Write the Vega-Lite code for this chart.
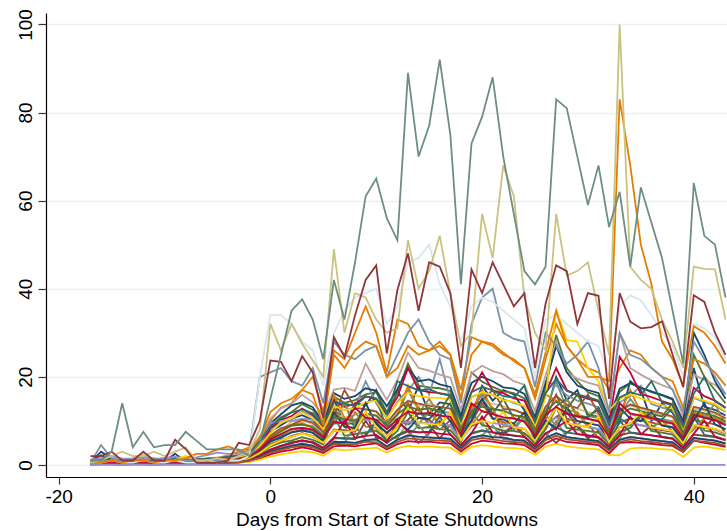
{
"$schema": "https://vega.github.io/schema/vega-lite/v6.json",
"width": 681, "height": 464,
"autosize": {"type": "none"},
"padding": {"left": 46, "top": 13, "right": 0, "bottom": 54},
"background": "white",
"config": {"view": {"stroke": null}, "font": "Liberation Sans"},
"data": {"values": [
{"day":-17,"a":0.5,"b":0.3,"c":0.2,"P":0.5,"f":0.5,"g":0.1,"i":1,"j":0.3,"k":0.5,"l":0.4,"m":0.2,"n":1,"o":0.1,"p":0.4,"q":0.8,"r":0.2,"s":0.1,"t":0.4,"u":0.3,"w":0.6,"x":1.2,"y":0.5,"z":0.2,"A":0.4,"B":0.1,"C":0.7,"D":0.3,"F":0.2,"G":0.5,"H":0.8,"I":0.2,"J":0.4,"N":0.1,"Q":0.1,"E":0.5,"L":0.5,"O":0.5,"K":0.5,"M":2,"T":1,"Z":0},
{"day":-16,"a":3,"b":0.4,"c":0.3,"P":0.6,"f":0.6,"g":0.2,"i":1.2,"j":0.4,"k":0.8,"l":0.5,"m":0.3,"n":1.5,"o":0.1,"p":0.6,"q":2.2,"r":0.3,"s":0.2,"t":0.5,"u":0.4,"w":0.8,"x":1.5,"y":0.6,"z":0.3,"A":0.5,"B":0.2,"C":0.9,"D":0.4,"F":0.3,"G":0.6,"H":1.1,"I":0.3,"J":0.5,"N":0.2,"Q":0.2,"E":4.5,"L":0.5,"O":0.5,"K":1,"M":2,"T":1,"Z":0},
{"day":-15,"a":1.5,"b":0.5,"c":0.3,"P":0.7,"f":0.7,"g":0.2,"i":1.5,"j":0.5,"k":0.7,"l":0.6,"m":0.3,"n":1.3,"o":0.2,"p":0.5,"q":1.2,"r":0.3,"s":0.2,"t":0.6,"u":0.4,"w":1,"x":2,"y":0.7,"z":0.3,"A":0.6,"B":0.2,"C":1,"D":0.5,"F":0.3,"G":0.7,"H":1.2,"I":0.3,"J":0.6,"N":0.2,"Q":0.2,"E":1.5,"L":1,"O":1,"K":2,"M":3,"T":3,"Z":0},
{"day":-14,"a":0.8,"b":0.4,"c":0.2,"P":0.5,"f":0.5,"g":0.1,"i":1,"j":0.4,"k":0.6,"l":0.4,"m":0.2,"n":1,"o":0.1,"p":0.4,"q":0.9,"r":0.2,"s":0.1,"t":0.5,"u":0.3,"w":0.7,"x":1.4,"y":0.5,"z":0.2,"A":0.4,"B":0.1,"C":0.8,"D":0.3,"F":0.2,"G":0.5,"H":0.9,"I":0.2,"J":0.4,"N":0.1,"Q":0.1,"E":1,"L":0.5,"O":0.5,"K":3,"M":1,"T":14,"Z":0},
{"day":-13,"a":0.9,"b":0.5,"c":0.3,"P":0.6,"f":0.6,"g":0.2,"i":1.1,"j":0.4,"k":0.7,"l":0.5,"m":0.3,"n":1.2,"o":0.1,"p":0.5,"q":1,"r":0.3,"s":0.2,"t":0.6,"u":0.4,"w":0.8,"x":1.5,"y":0.6,"z":0.3,"A":0.5,"B":0.2,"C":0.9,"D":0.4,"F":0.3,"G":0.6,"H":1,"I":0.3,"J":0.5,"N":0.2,"Q":0.2,"E":1,"L":0.5,"O":1,"K":2,"M":1,"T":4,"Z":0},
{"day":-12,"a":1,"b":0.6,"c":0.4,"P":0.8,"f":0.7,"g":0.2,"i":2.5,"j":0.5,"k":0.8,"l":0.6,"m":0.3,"n":1.4,"o":0.2,"p":0.6,"q":1.2,"r":0.3,"s":0.2,"t":0.7,"u":0.5,"w":0.9,"x":1.8,"y":0.7,"z":0.4,"A":0.6,"B":0.2,"C":1.1,"D":0.5,"F":0.3,"G":0.7,"H":1.2,"I":0.3,"J":0.6,"N":0.2,"Q":0.2,"E":1,"L":1,"O":1,"K":2,"M":3,"T":7.5,"Z":0},
{"day":-11,"a":0.7,"b":0.4,"c":0.3,"P":0.5,"f":0.5,"g":0.1,"i":1,"j":0.4,"k":0.6,"l":0.4,"m":0.2,"n":1.1,"o":0.1,"p":0.4,"q":0.9,"r":0.2,"s":0.1,"t":0.5,"u":0.3,"w":0.7,"x":1.3,"y":0.5,"z":0.2,"A":0.4,"B":0.1,"C":0.8,"D":0.3,"F":0.2,"G":0.5,"H":0.9,"I":0.2,"J":0.4,"N":0.1,"Q":0.1,"E":1.5,"L":0.5,"O":0.5,"K":3,"M":1,"T":4,"Z":0},
{"day":-10,"a":0.9,"b":0.5,"c":0.3,"P":0.6,"f":0.6,"g":0.2,"i":1.2,"j":0.5,"k":0.7,"l":0.5,"m":0.3,"n":1.3,"o":0.1,"p":0.5,"q":1.1,"r":0.3,"s":0.2,"t":0.6,"u":0.4,"w":0.8,"x":1.6,"y":0.6,"z":0.3,"A":0.5,"B":0.2,"C":1,"D":0.4,"F":0.3,"G":0.6,"H":1,"I":0.3,"J":0.5,"N":0.2,"Q":0.2,"E":1,"L":0.5,"O":1,"K":2,"M":1,"T":4.5,"Z":0},
{"day":-9,"a":2.5,"b":0.6,"c":0.4,"P":0.9,"f":0.8,"g":0.2,"i":1.4,"j":0.6,"k":1.8,"l":0.6,"m":0.4,"n":1.5,"o":0.2,"p":0.6,"q":1.3,"r":0.4,"s":0.2,"t":0.8,"u":0.5,"w":1,"x":1.8,"y":0.7,"z":0.4,"A":0.6,"B":0.3,"C":1.2,"D":0.5,"F":0.4,"G":0.7,"H":1.3,"I":0.4,"J":0.6,"N":0.3,"Q":0.3,"E":1,"L":1,"O":1,"K":3,"M":5.7,"T":4.5,"Z":0},
{"day":-8,"a":0.8,"b":0.5,"c":0.3,"P":0.7,"f":0.6,"g":0.2,"i":1.1,"j":0.4,"k":0.7,"l":0.5,"m":0.3,"n":1.2,"o":0.1,"p":0.5,"q":1,"r":0.3,"s":0.2,"t":0.6,"u":0.4,"w":0.8,"x":1.5,"y":0.6,"z":0.3,"A":0.5,"B":0.2,"C":2,"D":0.4,"F":0.3,"G":0.6,"H":1,"I":0.3,"J":0.5,"N":0.2,"Q":0.2,"E":1,"L":0.5,"O":1.5,"K":4,"M":3.6,"T":7.5,"Z":0},
{"day":-7,"a":1,"b":0.6,"c":0.4,"P":1,"f":0.7,"g":0.2,"i":1.3,"j":0.5,"k":0.8,"l":0.6,"m":0.3,"n":1.4,"o":0.2,"p":0.6,"q":1.2,"r":0.3,"s":0.2,"t":0.7,"u":0.5,"w":0.9,"x":1.7,"y":0.7,"z":0.4,"A":0.6,"B":0.2,"C":1.1,"D":0.5,"F":0.3,"G":0.7,"H":1.2,"I":0.3,"J":0.6,"N":0.2,"Q":0.2,"E":1,"L":0.5,"O":2.5,"K":1,"M":0.5,"T":5.5,"Z":0},
{"day":-6,"a":1.2,"b":0.7,"c":0.5,"P":1.2,"f":0.8,"g":0.3,"i":1.4,"j":0.6,"k":0.9,"l":0.7,"m":0.4,"n":1.5,"o":0.2,"p":0.7,"q":1.4,"r":0.4,"s":0.3,"t":0.8,"u":0.6,"w":1.1,"x":2.2,"y":0.8,"z":0.5,"A":0.7,"B":0.3,"C":1.3,"D":0.6,"F":0.4,"G":0.8,"H":1.4,"I":0.4,"J":0.7,"N":0.3,"Q":0.3,"E":1,"L":1,"O":2.5,"K":1,"M":0.5,"T":3.5,"Z":0},
{"day":-5,"a":1.3,"b":0.8,"c":0.6,"P":1.5,"f":0.9,"g":0.3,"i":1.6,"j":0.7,"k":1,"l":0.8,"m":0.5,"n":1.7,"o":0.3,"p":0.8,"q":1.5,"r":0.5,"s":0.4,"t":0.9,"u":0.7,"w":1.2,"x":2.8,"y":0.9,"z":0.6,"A":0.8,"B":0.4,"C":1.4,"D":0.7,"F":0.5,"G":0.9,"H":1.5,"I":0.5,"J":0.8,"N":0.4,"Q":0.3,"E":1,"L":0.5,"O":3.5,"K":1.5,"M":0.5,"T":3.5,"Z":0},
{"day":-4,"a":1.5,"b":1,"c":0.8,"P":2.2,"f":1.1,"g":0.4,"i":1.8,"j":0.9,"k":1.2,"l":1,"m":0.6,"n":2,"o":0.4,"p":1,"q":1.8,"r":0.6,"s":0.5,"t":1.1,"u":0.8,"w":1.5,"x":2.5,"y":1.1,"z":0.7,"A":1,"B":0.5,"C":1.7,"D":0.8,"F":0.6,"G":1.1,"H":1.8,"I":0.6,"J":1,"N":0.5,"Q":0.4,"E":1,"L":1,"O":4.2,"K":1,"M":1,"T":3.5,"Z":0},
{"day":-3,"a":1.8,"b":1.2,"c":1.5,"P":3,"f":1.3,"g":0.5,"i":2,"j":1.2,"k":1.6,"l":1.3,"m":0.9,"n":2.4,"o":0.5,"p":1,"q":2,"r":0.8,"s":0.8,"t":1.4,"u":0.8,"w":1.9,"x":2.6,"y":1.5,"z":0.9,"A":1.2,"B":0.7,"C":1.8,"D":1.1,"F":0.8,"G":1.4,"H":2.1,"I":0.9,"J":1.3,"N":0.6,"Q":0.6,"E":2,"L":1,"O":3.3,"K":2,"M":5,"T":3.5,"Z":0},
{"day":-2,"a":2.6,"b":1.6,"c":2.8,"P":4,"f":2.2,"g":0.8,"i":2.4,"j":1.8,"k":2.6,"l":1.9,"m":1.5,"n":3.3,"o":0.7,"p":1.4,"q":2.9,"r":1.2,"s":1.4,"t":2.2,"u":1.1,"w":2.7,"x":3.2,"y":2.3,"z":1.2,"A":1.9,"B":1.1,"C":2.4,"D":1.7,"F":1.2,"G":2,"H":2.7,"I":1.5,"J":1.8,"N":1,"Q":0.9,"E":3,"L":2,"O":3.5,"K":3,"M":4.5,"T":2,"Z":0},
{"day":-1,"a":4.5,"b":2.5,"c":5.5,"P":6,"f":3.8,"g":1.4,"i":3.6,"j":3.2,"k":4.9,"l":3.1,"m":2.9,"n":6.5,"o":1.2,"p":2.2,"q":5,"r":2.2,"s":2.5,"t":3.8,"u":1.9,"w":4.4,"x":4.5,"y":4,"z":2.1,"A":3.4,"B":1.8,"C":4.3,"D":3.2,"F":2.1,"G":3.4,"H":5.2,"I":2.7,"J":3.5,"N":1.9,"Q":1.6,"E":20,"L":20,"O":6,"K":8,"M":10,"T":5,"Z":0},
{"day":0,"a":7.5,"b":4.2,"c":8.8,"P":10,"f":6.5,"g":2.4,"i":6.2,"j":5.3,"k":8.1,"l":5.2,"m":4.8,"n":10.5,"o":1.9,"p":3.8,"q":9.4,"r":3.5,"s":4.2,"t":6.4,"u":3.1,"w":8.3,"x":9.5,"y":6.7,"z":3.3,"A":5.6,"B":3,"C":7.2,"D":5.4,"F":3.4,"G":6.1,"H":8.7,"I":4.4,"J":5.8,"N":3,"Q":2.8,"E":21,"L":34,"O":12,"K":32,"M":23.7,"T":15,"Z":0},
{"day":1,"a":9,"b":5.3,"c":10.8,"P":13,"f":7.9,"g":3,"i":7.7,"j":6.4,"k":9.6,"l":6.6,"m":5.7,"n":12.8,"o":2.4,"p":4.9,"q":11.5,"r":4.3,"s":5.1,"t":7.8,"u":3.8,"w":10.2,"x":10,"y":8.3,"z":4.2,"A":6.9,"B":3.7,"C":9.6,"D":6.1,"F":4.3,"G":7.6,"H":10.5,"I":5.5,"J":7,"N":3.7,"Q":3.4,"E":22,"L":34,"O":14,"K":26,"M":23.4,"T":25,"Z":0},
{"day":2,"a":10.5,"b":6.6,"c":12,"P":14,"f":8.9,"g":3.4,"i":9.8,"j":7.4,"k":10.3,"l":8.1,"m":6.3,"n":13.9,"o":2.8,"p":5.9,"q":13.5,"r":5.1,"s":5.5,"t":9.1,"u":4.4,"w":11.1,"x":10,"y":9.1,"z":5.1,"A":7.9,"B":4.4,"C":10.6,"D":7.4,"F":4.9,"G":8.9,"H":11.9,"I":6.4,"J":8.2,"N":4.3,"Q":4,"E":19,"L":32,"O":15,"K":32,"M":19,"T":35,"Z":0},
{"day":3,"a":11.3,"b":7.2,"c":13.8,"P":17,"f":9.1,"g":4,"i":10.1,"j":8,"k":12.1,"l":8.4,"m":7.2,"n":15.9,"o":3.1,"p":6.1,"q":14.2,"r":5.4,"s":6.3,"t":9.5,"u":4.6,"w":12.8,"x":10.5,"y":10.2,"z":5.5,"A":8.4,"B":4.8,"C":11.9,"D":7.8,"F":5.6,"G":9.2,"H":12.6,"I":7.1,"J":8.4,"N":4.8,"Q":4.3,"E":18,"L":28,"O":17,"K":27.5,"M":24.7,"T":37.6,"Z":0},
{"day":4,"a":10.2,"b":6.4,"c":12.5,"P":20,"f":8.8,"g":3.5,"i":9.3,"j":7.3,"k":11.1,"l":7.8,"m":6.6,"n":14.2,"o":2.9,"p":5.6,"q":13.1,"r":5.2,"s":5.7,"t":8.5,"u":4.4,"w":11.4,"x":10.2,"y":9.6,"z":5.1,"A":8,"B":4.4,"C":10.6,"D":7.3,"F":5,"G":8.5,"H":11.7,"I":6.5,"J":8,"N":4.3,"Q":4,"E":22,"L":26,"O":16,"K":23.7,"M":21,"T":33,"Z":0},
{"day":5,"a":7.9,"b":5.1,"c":9.1,"P":12,"f":6.8,"g":2.7,"i":7.4,"j":5.3,"k":8.4,"l":6.2,"m":4.8,"n":11.2,"o":2.1,"p":4.5,"q":9.6,"r":3.9,"s":4.6,"t":6.4,"u":3.3,"w":8.7,"x":9.5,"y":7.4,"z":3.7,"A":6.1,"B":3.4,"C":8.1,"D":5.6,"F":3.8,"G":6.6,"H":8.9,"I":5,"J":6.2,"N":3.3,"Q":3,"E":14,"L":18,"O":9,"K":20,"M":10.5,"T":24,"Z":0},
{"day":6,"a":15,"b":7.7,"c":15.5,"P":26,"f":10.4,"g":4.2,"i":11.6,"j":13,"k":13.5,"l":9.4,"m":8.1,"n":17.1,"o":3.6,"p":7.2,"q":16.3,"r":6,"s":11,"t":16,"u":5.4,"w":14.5,"x":10.5,"y":11.2,"z":6.3,"A":9.5,"B":5.2,"C":13.4,"D":12,"F":6.1,"G":10.8,"H":14.2,"I":7.8,"J":9.8,"N":5.2,"Q":4.8,"E":28,"L":30,"O":25,"K":49,"M":29,"T":42,"Z":0},
{"day":7,"a":9,"b":7.9,"c":14.1,"P":24,"f":14,"g":4.4,"i":10.8,"j":8.8,"k":12.4,"l":9.6,"m":7.5,"n":17.5,"o":3.3,"p":6.7,"q":15,"r":6.1,"s":6.6,"t":10.6,"u":5,"w":13.2,"x":10,"y":17,"z":5.9,"A":14,"B":5.2,"C":12.4,"D":8.6,"F":10,"G":10.4,"H":13.9,"I":7.5,"J":9.5,"N":5.2,"Q":4.7,"E":25,"L":35,"O":22,"K":30,"M":24.5,"T":33,"Z":0},
{"day":8,"a":14,"b":7.5,"c":14.7,"P":30,"f":8,"g":4.2,"i":11.3,"j":8.3,"k":13,"l":9.2,"m":12,"n":16.8,"o":3.5,"p":7,"q":15.6,"r":5.8,"s":7,"t":10.1,"u":9,"w":13.9,"x":10.3,"y":13,"z":6.1,"A":9.2,"B":5,"C":12.9,"D":8.4,"F":6.1,"G":10,"H":13.4,"I":7.8,"J":13,"N":5,"Q":4.6,"E":24,"L":38,"O":26,"K":39,"M":34,"T":46,"Z":0},
{"day":9,"a":13.5,"b":12,"c":16,"P":36,"f":11.6,"g":4.6,"i":12.7,"j":7,"k":19,"l":14,"m":8.7,"n":23,"o":3.7,"p":7.8,"q":17.4,"r":10,"s":7.4,"t":11.7,"u":5.6,"w":15.6,"x":10.2,"y":12.6,"z":6.6,"A":10.6,"B":5.8,"C":14.2,"D":14,"F":6.6,"G":11.6,"H":15.5,"I":12,"J":10.7,"N":5.6,"Q":5.3,"E":26,"L":39,"O":28,"K":38,"M":42,"T":61,"Z":0},
{"day":10,"a":17,"b":6,"c":16.5,"P":30,"f":11.2,"g":4.9,"i":12.2,"j":9.7,"k":14,"l":15,"m":8.4,"n":18.7,"o":3.9,"p":7.4,"q":16.8,"r":6.5,"s":7.8,"t":9,"u":5.9,"w":14.9,"x":10,"y":12.1,"z":10,"A":10.2,"B":5.6,"C":14.6,"D":9.3,"F":6.8,"G":11.2,"H":15.1,"I":8.7,"J":10.3,"N":5.8,"Q":5.1,"E":27,"L":40,"O":27,"K":33,"M":45.3,"T":65,"Z":0},
{"day":11,"a":10.3,"b":6.3,"c":12,"P":21,"f":8.9,"g":3.5,"i":9.6,"j":7.1,"k":10.5,"l":8.2,"m":6.3,"n":14.8,"o":2.8,"p":5.6,"q":13.3,"r":5.1,"s":5.6,"t":8.8,"u":4.2,"w":11.7,"x":8.5,"y":9.5,"z":5,"A":10,"B":4.2,"C":10.5,"D":7.3,"F":5,"G":8.8,"H":11.5,"I":6.3,"J":8.1,"N":4.2,"Q":3.9,"E":20,"L":32,"O":20,"K":30,"M":25.3,"T":56,"Z":0},
{"day":12,"a":17,"b":8.6,"c":16.4,"P":33,"f":11.3,"g":4.7,"i":12.5,"j":9.4,"k":14.4,"l":10.3,"m":6,"n":19.3,"o":3.8,"p":7.6,"q":17.2,"r":6.6,"s":7.7,"t":11.6,"u":5.7,"w":15.4,"x":9.2,"y":12.5,"z":6.7,"A":10.4,"B":5.7,"C":14.1,"D":9.6,"F":10,"G":11.5,"H":19,"I":8.6,"J":10.4,"N":5.7,"Q":5.2,"E":25,"L":36,"O":22,"K":31,"M":39.7,"T":51,"Z":0},
{"day":13,"a":12,"b":10.2,"c":23,"P":32,"f":17,"g":5.4,"i":14.6,"j":14,"k":16.9,"l":9,"m":9.7,"n":25.5,"o":4.3,"p":8.9,"q":22,"r":7.6,"s":12,"t":18,"u":6.5,"w":22,"x":9.8,"y":14.5,"z":7.9,"A":12.1,"B":6.8,"C":16.4,"D":8,"F":7.6,"G":13.3,"H":17.9,"I":13,"J":12.1,"N":6.7,"Q":6,"E":30,"L":46,"O":27,"K":51,"M":48,"T":89,"Z":0},
{"day":14,"a":18,"b":13,"c":18,"P":27,"f":12.4,"g":5.2,"i":13.4,"j":10.6,"k":20,"l":11.8,"m":9.3,"n":22,"o":4.1,"p":8.5,"q":19,"r":5,"s":8.3,"t":12.4,"u":9,"w":17,"x":9.6,"y":13.9,"z":7.4,"A":11.7,"B":6.2,"C":15.6,"D":10.7,"F":7.4,"G":12.5,"H":16.9,"I":9.5,"J":11.6,"N":6.4,"Q":5.8,"E":33,"L":47,"O":25,"K":40,"M":35,"T":70,"Z":0},
{"day":15,"a":11.5,"b":9.2,"c":17.6,"P":26,"f":9,"g":5.3,"i":13.9,"j":10.2,"k":16,"l":11.3,"m":12,"n":21.4,"o":4.2,"p":8.2,"q":19.4,"r":7.2,"s":8.6,"t":12.9,"u":6.2,"w":16.5,"x":9.4,"y":13.4,"z":7.5,"A":15,"B":6.4,"C":15.3,"D":10.4,"F":7.5,"G":12.9,"H":17.2,"I":9.3,"J":11.8,"N":6.2,"Q":5.7,"E":28,"L":50,"O":26,"K":44,"M":46,"T":77,"Z":0},
{"day":16,"a":14.2,"b":6,"c":17.4,"P":28,"f":12.1,"g":5,"i":13.2,"j":8,"k":24,"l":11.2,"m":9.1,"n":20.5,"o":4,"p":8.1,"q":18.3,"r":10,"s":8.1,"t":9,"u":6,"w":16.3,"x":9.2,"y":13.1,"z":11,"A":11.1,"B":6,"C":15.2,"D":13,"F":7.1,"G":12.1,"H":16.2,"I":9.1,"J":11.2,"N":6.1,"Q":5.5,"E":25,"L":41,"O":27,"K":52,"M":45,"T":92,"Z":0},
{"day":17,"a":13.8,"b":9.1,"c":16.8,"P":25,"f":11.8,"g":4.9,"i":12.8,"j":10.1,"k":14.7,"l":14,"m":8.8,"n":19.8,"o":3.9,"p":7.9,"q":17.7,"r":6.9,"s":7.9,"t":11.8,"u":5.9,"w":15.8,"x":9,"y":12.8,"z":6.9,"A":10.8,"B":5.9,"C":14.8,"D":9.9,"F":6.9,"G":16,"H":15.8,"I":12,"J":10.9,"N":5.9,"Q":5.4,"E":24,"L":36,"O":25,"K":39,"M":39,"T":75,"Z":0},
{"day":18,"a":8.9,"b":5.7,"c":10.4,"P":17,"f":7.6,"g":3,"i":8.2,"j":6.3,"k":9.4,"l":6.9,"m":5.6,"n":12.6,"o":2.4,"p":5.1,"q":11.2,"r":4.4,"s":5.1,"t":7.6,"u":3.8,"w":9.8,"x":5.6,"y":8.1,"z":4.4,"A":6.8,"B":3.8,"C":9.4,"D":6.3,"F":4.4,"G":7.5,"H":9.9,"I":5.6,"J":6.8,"N":3.8,"Q":3.4,"E":14,"L":28,"O":15,"K":27,"M":22,"T":41,"Z":0},
{"day":19,"a":11,"b":8.8,"c":21,"P":29,"f":12.3,"g":4.8,"i":13.4,"j":9.7,"k":15.4,"l":11.3,"m":9.2,"n":20.8,"o":4.1,"p":8.2,"q":18.6,"r":7.1,"s":12,"t":12.3,"u":6.1,"w":16.6,"x":9.2,"y":13.3,"z":7.2,"A":9,"B":6.1,"C":15.4,"D":10.2,"F":7.2,"G":12.3,"H":16.5,"I":9.2,"J":14,"N":6.2,"Q":5.6,"E":32,"L":36,"O":25,"K":30,"M":44.4,"T":73,"Z":0},
{"day":20,"a":18,"b":10.1,"c":18.9,"P":28,"f":16,"g":5.5,"i":14.1,"j":14,"k":16.3,"l":15,"m":9.8,"n":22.5,"o":4.5,"p":8.7,"q":20,"r":7.8,"s":9,"t":17,"u":6.7,"w":21,"x":10,"y":14.6,"z":7.8,"A":12.2,"B":6.7,"C":16.5,"D":15,"F":11,"G":13.2,"H":17.7,"I":10,"J":12.2,"N":6.7,"Q":6.1,"E":38,"L":38,"O":28,"K":57,"M":39,"T":79,"Z":0},
{"day":21,"a":14.6,"b":13,"c":17.7,"P":27,"f":12.7,"g":5.3,"i":13.9,"j":10.4,"k":15.9,"l":11.7,"m":6,"n":21.3,"o":4.2,"p":8.4,"q":19,"r":7.4,"s":8.5,"t":12.6,"u":9,"w":16.9,"x":9.5,"y":17,"z":7.4,"A":11.6,"B":6.3,"C":15.9,"D":10.6,"F":7.4,"G":12.7,"H":16.9,"I":9.5,"J":11.5,"N":6.3,"Q":5.8,"E":40,"L":37,"O":27.5,"K":47,"M":46,"T":88,"Z":0},
{"day":22,"a":17,"b":7,"c":16.7,"P":25,"f":12.2,"g":4.9,"i":13.3,"j":9.7,"k":14.9,"l":15,"m":8.8,"n":20.6,"o":3.9,"p":8.2,"q":17.6,"r":7.2,"s":7.8,"t":9,"u":5.8,"w":16.3,"x":9.2,"y":12.7,"z":7.2,"A":10.8,"B":6.2,"C":14.7,"D":10.3,"F":6.8,"G":12.3,"H":15.6,"I":12,"J":10.8,"N":6.2,"Q":5.4,"E":30,"L":35,"O":25.5,"K":68,"M":41,"T":70,"Z":0},
{"day":23,"a":16,"b":8.5,"c":16.3,"P":24,"f":8,"g":4.8,"i":12.5,"j":9.4,"k":14.1,"l":10.6,"m":8.6,"n":19,"o":3.8,"p":7.6,"q":17.3,"r":9,"s":7.7,"t":11.3,"u":5.7,"w":15.1,"x":8.7,"y":12.5,"z":6.6,"A":10.6,"B":5.7,"C":14.3,"D":9.4,"F":6.7,"G":11.3,"H":15.3,"I":8.5,"J":10.5,"N":5.7,"Q":5.2,"E":28.6,"L":33,"O":23.6,"K":61,"M":36,"T":57,"Z":0},
{"day":24,"a":12.4,"b":8.2,"c":15.1,"P":22,"f":10.9,"g":4.5,"i":11.6,"j":7,"k":13.3,"l":10,"m":11,"n":18.2,"o":3.6,"p":7.3,"q":16.1,"r":6.4,"s":7.2,"t":10.7,"u":5.5,"w":14.6,"x":8.2,"y":11.6,"z":6.4,"A":9.8,"B":5.5,"C":13.4,"D":12,"F":6.3,"G":10.9,"H":18,"I":8.2,"J":9.8,"N":5.5,"Q":5,"E":28,"L":31,"O":22,"K":38,"M":39,"T":44,"Z":0},
{"day":25,"a":8.5,"b":5.3,"c":10.1,"P":15,"f":7.3,"g":2.9,"i":7.9,"j":5.9,"k":9.1,"l":6.5,"m":5.5,"n":12.2,"o":2.3,"p":4.8,"q":10.9,"r":4.2,"s":4.9,"t":7.2,"u":3.6,"w":9.5,"x":5.5,"y":7.9,"z":4.1,"A":6.7,"B":3.6,"C":9,"D":6,"F":4.3,"G":7.2,"H":9.7,"I":5.4,"J":6.6,"N":3.6,"Q":3.3,"E":17.7,"L":20,"O":16,"K":30,"M":22,"T":41,"Z":0},
{"day":26,"a":11,"b":8.9,"c":17.3,"P":24,"f":12.4,"g":4.9,"i":13.1,"j":10.3,"k":19,"l":9,"m":9.2,"n":20.3,"o":4.1,"p":8.1,"q":18.4,"r":7.1,"s":8.1,"t":16,"u":6.1,"w":16.2,"x":9.1,"y":13.2,"z":10,"A":11.2,"B":6.1,"C":15.3,"D":10.1,"F":7.2,"G":12.1,"H":16.3,"I":9.1,"J":11.3,"N":6.1,"Q":5.6,"E":30,"L":33,"O":25.5,"K":26,"M":36.6,"T":45,"Z":0},
{"day":27,"a":20,"b":10.9,"c":29.5,"P":32,"f":19,"g":6,"i":15.7,"j":16,"k":18,"l":13.3,"m":10.8,"n":28,"o":4.8,"p":9.6,"q":27,"r":5,"s":13,"t":14.6,"u":10,"w":22,"x":10.8,"y":15.6,"z":8.5,"A":9,"B":7.2,"C":35.3,"D":8,"F":8.4,"G":14.4,"H":19.5,"I":13,"J":13.2,"N":7.2,"Q":6.6,"E":27,"L":34,"O":35,"K":57,"M":45.3,"T":83,"Z":0},
{"day":28,"a":14.7,"b":12,"c":22,"P":27,"f":12.7,"g":5.2,"i":13.8,"j":10.5,"k":15.8,"l":15,"m":9.5,"n":21,"o":4.2,"p":8.4,"q":21,"r":7.3,"s":8.4,"t":12.6,"u":6.3,"w":17,"x":9.4,"y":13.6,"z":7.4,"A":15,"B":6.3,"C":28.3,"D":13,"F":10,"G":12.6,"H":16.8,"I":9.5,"J":11.6,"N":6.3,"Q":5.8,"E":23,"L":32,"O":27,"K":43,"M":44,"T":81,"Z":0},
{"day":29,"a":17,"b":8.6,"c":19,"P":24,"f":9,"g":5,"i":12.7,"j":10,"k":14.6,"l":11.3,"m":12,"n":19.6,"o":3.9,"p":8,"q":18,"r":9,"s":8,"t":11.9,"u":5.9,"w":15.8,"x":9,"y":12.9,"z":7,"A":10.9,"B":5.9,"C":28,"D":9.9,"F":7,"G":16,"H":16,"I":9,"J":11,"N":6,"Q":5.5,"E":25,"L":30,"O":24,"K":44,"M":32,"T":70,"Z":0},
{"day":30,"a":11,"b":6,"c":16.5,"P":22,"f":11.1,"g":4.8,"i":12,"j":9.5,"k":13.9,"l":10.8,"m":8.5,"n":18.7,"o":3.7,"p":7.6,"q":17,"r":6.5,"s":7.7,"t":9,"u":5.6,"w":15,"x":8.6,"y":16,"z":6.7,"A":10.4,"B":5.6,"C":22,"D":9.5,"F":6.7,"G":11.5,"H":15.4,"I":8.6,"J":10.5,"N":5.7,"Q":5.2,"E":28,"L":28,"O":20,"K":46,"M":39,"T":59,"Z":0},
{"day":31,"a":12.5,"b":7.8,"c":15.6,"P":21,"f":10.6,"g":4.5,"i":11.5,"j":6,"k":13.1,"l":13,"m":8.1,"n":18,"o":3.5,"p":7.2,"q":16.3,"r":6.2,"s":7.3,"t":10.7,"u":5.4,"w":14.4,"x":8.2,"y":11.7,"z":6.3,"A":9.9,"B":5.4,"C":19,"D":9,"F":6.3,"G":10.9,"H":14.6,"I":11,"J":9.9,"N":5.4,"Q":5,"E":22,"L":27,"O":20,"K":35,"M":38.4,"T":68,"Z":0},
{"day":32,"a":8.1,"b":5,"c":10.1,"P":17,"f":6.9,"g":2.6,"i":7.4,"j":5.8,"k":8.5,"l":6.6,"m":5.2,"n":11.6,"o":2.2,"p":4.6,"q":10.5,"r":4,"s":4.7,"t":6.9,"u":3.5,"w":9.3,"x":5.2,"y":7.6,"z":4.1,"A":6.4,"B":3.5,"C":12.4,"D":5.8,"F":4.1,"G":7,"H":9.4,"I":5.2,"J":6.4,"N":3.5,"Q":3.2,"E":12,"L":20,"O":19,"K":25,"M":15,"T":54,"Z":0},
{"day":33,"a":10,"b":8.5,"c":16.6,"P":22,"f":11.3,"g":5,"i":12.2,"j":9.6,"k":14.2,"l":10.6,"m":6,"n":30,"o":2.2,"p":7.7,"q":17.3,"r":6.7,"s":7.5,"t":11.5,"u":5.8,"w":24.5,"x":8.6,"y":12.3,"z":10,"A":14,"B":5.7,"C":15,"D":13,"F":6.8,"G":11.3,"H":15.3,"I":8.6,"J":14,"N":5.7,"Q":5.2,"E":30,"L":36,"O":83,"K":100,"M":39,"T":62,"Z":0},
{"day":34,"a":19,"b":9.3,"c":18.5,"P":26,"f":15,"g":5.2,"i":13.5,"j":10.6,"k":15.6,"l":9,"m":9.5,"n":22,"o":3.7,"p":8.5,"q":18.6,"r":7.3,"s":8.4,"t":17,"u":6.3,"w":21,"x":9.4,"y":13.7,"z":7.4,"A":11.5,"B":6.4,"C":16,"D":10.5,"F":11,"G":12.8,"H":16.5,"I":9.4,"J":11.7,"N":6.3,"Q":5.8,"E":25,"L":38.5,"O":68,"K":45,"M":32.5,"T":45,"Z":0},
{"day":35,"a":17,"b":11,"c":17.6,"P":25,"f":11.7,"g":5,"i":12.8,"j":10.1,"k":18,"l":11.3,"m":9,"n":20.5,"o":3.9,"p":8.1,"q":17.5,"r":6.9,"s":11,"t":11.8,"u":6,"w":16.1,"x":9,"y":13,"z":7.1,"A":10.9,"B":6,"C":15.1,"D":9.9,"F":7,"G":12.2,"H":15.8,"I":12,"J":11.2,"N":6,"Q":5.4,"E":24,"L":37.4,"O":50,"K":42,"M":31,"T":63,"Z":0},
{"day":36,"a":10,"b":8.3,"c":16.5,"P":22,"f":8,"g":4.8,"i":12.1,"j":9.6,"k":13.8,"l":10.8,"m":8.6,"n":19.2,"o":3.8,"p":7.7,"q":16.7,"r":9,"s":7.7,"t":11.1,"u":5.7,"w":15.4,"x":8.5,"y":12.4,"z":6.7,"A":10.4,"B":5.7,"C":14.3,"D":12,"F":6.7,"G":11.6,"H":19,"I":8.5,"J":10.6,"N":5.7,"Q":5.2,"E":22,"L":34,"O":41,"K":40,"M":31.3,"T":55,"Z":0},
{"day":37,"a":14,"b":7.9,"c":15.8,"P":20,"f":10.4,"g":4.5,"i":11.4,"j":9.1,"k":13,"l":10.3,"m":10,"n":18.1,"o":3.6,"p":7.3,"q":15.9,"r":6.3,"s":7.3,"t":9,"u":5.4,"w":14.5,"x":8.1,"y":11.7,"z":6.4,"A":9.9,"B":5.4,"C":13.6,"D":8.9,"F":6.3,"G":11,"H":14.2,"I":8.1,"J":10,"N":5.4,"Q":4.9,"E":20,"L":30,"O":28,"K":33,"M":32.6,"T":47,"Z":0},
{"day":38,"a":11.8,"b":7.5,"c":14.8,"P":19,"f":9.9,"g":4.3,"i":10.8,"j":8.6,"k":12.3,"l":13,"m":7.6,"n":17.2,"o":3.4,"p":6.9,"q":15,"r":5.9,"s":6.9,"t":9.9,"u":5.1,"w":13.7,"x":7.6,"y":11,"z":6,"A":9.3,"B":5.1,"C":12.8,"D":8.5,"F":6,"G":14,"H":13.5,"I":7.7,"J":9.4,"N":5.1,"Q":4.7,"E":17,"L":27,"O":24,"K":28,"M":25,"T":35,"Z":0},
{"day":39,"a":7.7,"b":4.8,"c":9.9,"P":13,"f":6.4,"g":2.9,"i":7,"j":5.6,"k":8,"l":6.4,"m":4.9,"n":11,"o":1.8,"p":4.5,"q":9.8,"r":3.8,"s":4.5,"t":6.5,"u":3.3,"w":8.8,"x":4.9,"y":7.1,"z":3.9,"A":6.1,"B":3.3,"C":8.3,"D":5.5,"F":3.9,"G":6.8,"H":8.7,"I":4.9,"J":6.1,"N":3.3,"Q":3,"E":12,"L":20,"O":18,"K":22,"M":17.7,"T":23,"Z":0},
{"day":40,"a":22,"b":8.9,"c":25,"P":24,"f":11.6,"g":5.5,"i":12.8,"j":10.2,"k":15.2,"l":11.6,"m":8.9,"n":20.5,"o":3.9,"p":8.2,"q":30,"r":6.9,"s":12,"t":11.9,"u":6.1,"w":17.5,"x":9.1,"y":13.2,"z":11,"A":8,"B":6.1,"C":15.4,"D":10.2,"F":7.1,"G":12.3,"H":16.2,"I":9.1,"J":11.3,"N":6.1,"Q":5.5,"E":28,"L":32,"O":31.5,"K":45,"M":38.5,"T":64,"Z":0},
{"day":41,"a":13.2,"b":8.4,"c":20,"P":23,"f":11.1,"g":5,"i":12.3,"j":9.7,"k":14.3,"l":11,"m":8.4,"n":19.3,"o":4.2,"p":7.8,"q":25,"r":6.6,"s":7.8,"t":11.3,"u":5.8,"w":15.6,"x":8.7,"y":12.6,"z":6.8,"A":10.6,"B":5.8,"C":14.6,"D":14,"F":10,"G":11.7,"H":20,"I":8.6,"J":10.7,"N":5.8,"Q":5.3,"E":24,"L":31,"O":30,"K":44.5,"M":37,"T":52,"Z":0},
{"day":42,"a":12.5,"b":11,"c":17,"P":21,"f":10.6,"g":4.6,"i":11.6,"j":9.2,"k":13.5,"l":10.4,"m":8,"n":18.2,"o":3.8,"p":7.4,"q":19,"r":6.3,"s":7.4,"t":10.7,"u":5.5,"w":14.6,"x":8.2,"y":11.9,"z":6.4,"A":14,"B":5.5,"C":13.8,"D":9.2,"F":6.4,"G":11.1,"H":14.5,"I":8.2,"J":10.1,"N":5.5,"Q":5,"E":20,"L":29,"O":27,"K":44.4,"M":30,"T":50,"Z":0},
{"day":43,"a":11.2,"b":7.1,"c":14,"P":18,"f":9.5,"g":4.1,"i":10.4,"j":8.1,"k":12,"l":9.2,"m":7.1,"n":16.2,"o":3.4,"p":6.6,"q":15,"r":5.6,"s":6.6,"t":9.6,"u":4.9,"w":13,"x":7.3,"y":10.6,"z":5.7,"A":8.9,"B":4.9,"C":12.2,"D":8.1,"F":5.7,"G":9.9,"H":12.9,"I":7.3,"J":9,"N":4.9,"Q":4.4,"E":16,"L":24,"O":23,"K":33,"M":25,"T":38,"Z":0}
]},
"transform": [{"fold": ["a","b","c","P","f","g","i","j","k","l","m","n","o","p","q","r","s","t","u","w","x","y","z","A","B","C","D","F","G","H","I","J","N","Q","E","L","O","K","M","T","Z"], "as": ["key","val"]}],
"mark": {"type": "line", "strokeWidth": 1.8, "clip": true},
"encoding": {
  "x": {"field": "day", "type": "quantitative",
        "scale": {"domain": [-21.2, 43.14], "nice": false, "zero": false},
        "axis": {"values": [-20, 0, 20, 40], "labelExpr": "datum.value + ''", "title": "Days from Start of State Shutdowns", "grid": false,
                 "domainColor": "#000", "domainWidth": 1.2, "tickColor": "#333", "tickSize": 7, "tickWidth": 1.2,
                 "labelFont": "Liberation Sans", "labelFontSize": 19, "labelColor": "#000", "labelPadding": 3, "labelFlush": false,
                 "titleFont": "Liberation Sans", "titleFontSize": 19, "titleFontWeight": "normal", "titleColor": "#000", "titlePadding": 4}},
  "y": {"field": "val", "type": "quantitative",
        "scale": {"domain": [-2.75, 102.6], "nice": false, "zero": false},
        "axis": {"values": [0, 20, 40, 60, 80, 100], "title": null, "grid": true, "gridColor": "#eaf1f2", "gridWidth": 1.5,
                 "domainColor": "#000", "domainWidth": 1.2, "tickColor": "#333", "tickSize": 8, "tickWidth": 1.2,
                 "labelFont": "Liberation Sans", "labelFontSize": 19, "labelColor": "#000", "labelAngle": -90,
                 "labelAlign": "center", "labelBaseline": "alphabetic", "labelPadding": 7}},
  "color": {"field": "key", "type": "nominal", "legend": null,
            "scale": {"domain": ["a","b","c","P","f","g","i","j","k","l","m","n","o","p","q","r","s","t","u","w","x","y","z","A","B","C","D","F","G","H","I","J","N","Q","E","L","O","K","M","T","Z"],
                      "range": ["#1a476f","#90353b","#55752f","#e37e00","#6e8e84","#c10534","#cac27e","#a0522d","#7b92a8","#2d6d66","#9c8847","#bfa19c","#ffd200","#d9e6eb","#1a476f","#90353b","#55752f","#e37e00","#6e8e84","#c10534","#938dd2","#a0522d","#2d6d66","#9c8847","#bfa19c","#ffd200","#1a476f","#c10534","#55752f","#2d6d66","#ffd200","#c10534","#1a476f","#a0522d","#7b92a8","#d9e6eb","#e37e00","#cac27e","#90353b","#6e8e84","#938dd2"]}}
}
}
